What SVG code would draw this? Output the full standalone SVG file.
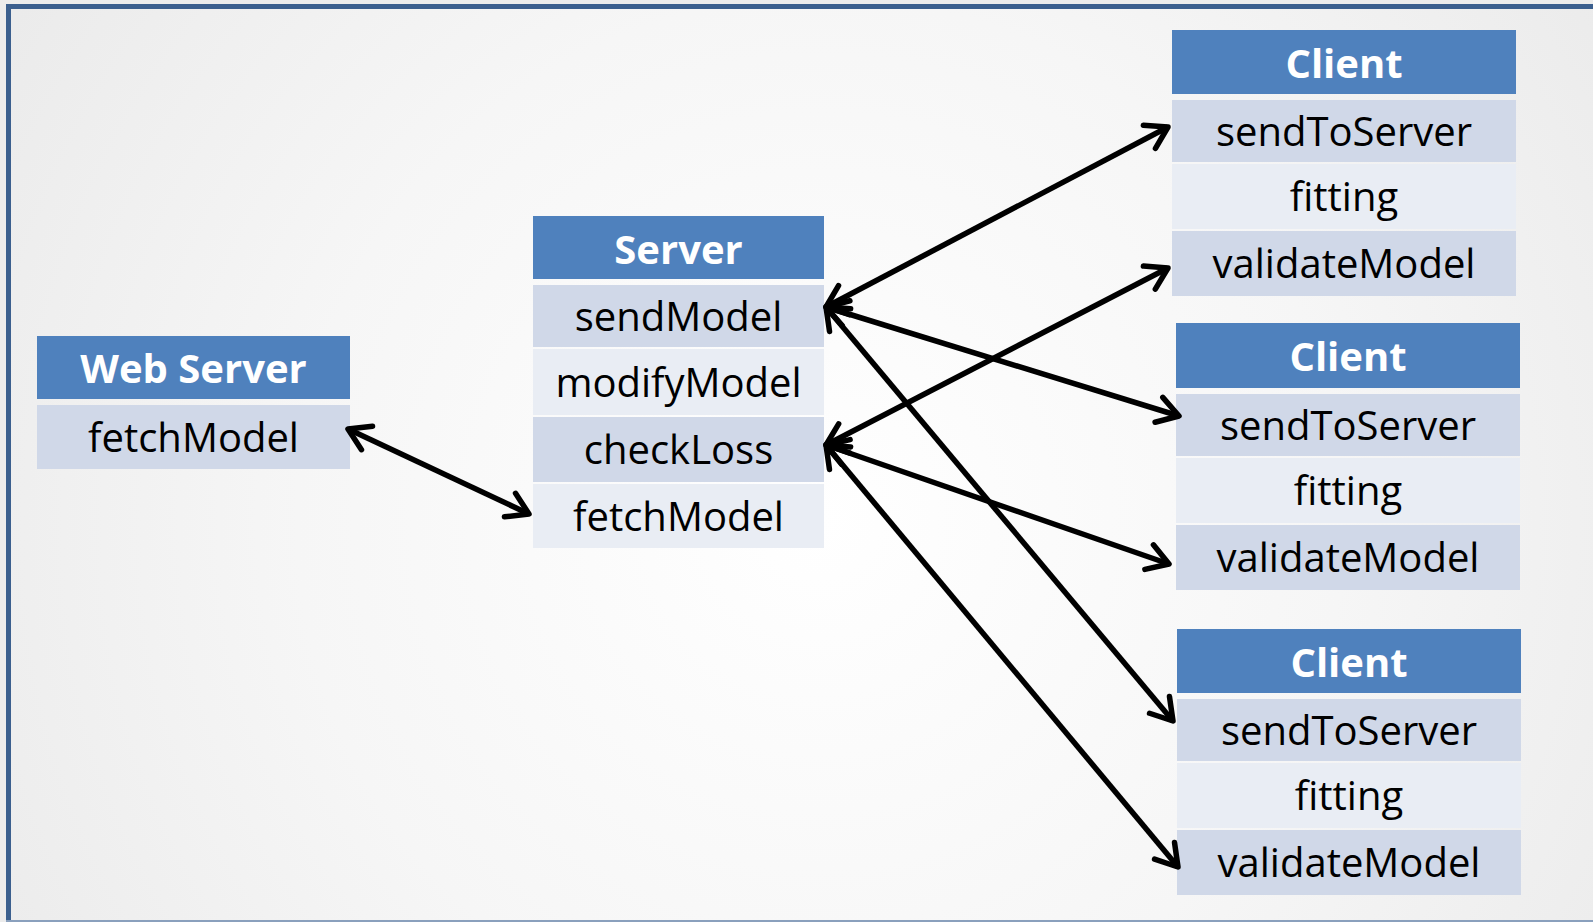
<svg xmlns="http://www.w3.org/2000/svg" width="1593" height="922" viewBox="0 0 1593 922">
  <defs>
    <radialGradient id="bg" cx="820" cy="520" r="950" gradientUnits="userSpaceOnUse">
      <stop offset="0" stop-color="#ffffff"/>
      <stop offset="0.55" stop-color="#f6f6f6"/>
      <stop offset="1" stop-color="#ebebeb"/>
    </radialGradient>
    <marker id="ah" markerUnits="userSpaceOnUse" markerWidth="40" markerHeight="40" viewBox="-30 -20 40 40" refX="0" refY="0" orient="auto-start-reverse" overflow="visible">
      <path d="M -21 -13 L 0 0 L -21 13" fill="none" stroke="#000" stroke-width="5.5" stroke-linecap="round" stroke-linejoin="round"/>
    </marker>
    <style>
      .hd { fill: #4f81bd; }
      .dk { fill: #d0d8e8; }
      .lt { fill: #e9edf4; }
      .ht { font-family: "Open Sans", "Noto Sans", "DejaVu Sans", sans-serif; font-weight: bold; font-size: 40px; fill: #ffffff; text-anchor: middle; }
      .rt { font-family: "Open Sans", "Noto Sans", "DejaVu Sans", sans-serif; font-size: 40px; fill: #000000; text-anchor: middle; }
      .cn line { stroke: #000; stroke-width: 5.5; marker-start: url(#ah); marker-end: url(#ah); }
    </style>
  </defs>

  <rect x="0" y="0" width="1593" height="922" fill="#ececec"/>
  <rect x="8" y="6" width="1585" height="915" fill="url(#bg)"/>
  <line x1="6" y1="6.5" x2="1593" y2="6.5" stroke="#3b5f8e" stroke-width="5"/>
  <line x1="8.5" y1="4" x2="8.5" y2="921" stroke="#3b5f8e" stroke-width="5"/>
  <line x1="6" y1="921" x2="1593" y2="921" stroke="#8aa0bd" stroke-width="2"/>

  <g id="web-server">
    <rect class="hd" x="37" y="336" width="313" height="63"/>
    <text class="ht" x="193.5" y="383" font-size="42">Web Server</text>
    <rect class="dk" x="37" y="405" width="313" height="64"/>
    <text class="rt" x="193.5" y="452">fetchModel</text>
  </g>

  <g id="server">
    <rect class="hd" x="533" y="216" width="291" height="63"/>
    <text class="ht" x="678.5" y="264">Server</text>
    <rect class="dk" x="533" y="285" width="291" height="62"/>
    <text class="rt" x="678.5" y="331">sendModel</text>
    <rect class="lt" x="533" y="349" width="291" height="66"/>
    <text class="rt" x="678.5" y="397">modifyModel</text>
    <rect class="dk" x="533" y="417" width="291" height="65"/>
    <text class="rt" x="678.5" y="464">checkLoss</text>
    <rect class="lt" x="533" y="484" width="291" height="64"/>
    <text class="rt" x="678.5" y="531">fetchModel</text>
  </g>

  <g id="client-1">
    <rect class="hd" x="1172" y="30" width="344" height="64"/>
    <text class="ht" x="1344" y="78">Client</text>
    <rect class="dk" x="1172" y="100" width="344" height="62"/>
    <text class="rt" x="1344" y="146">sendToServer</text>
    <rect class="lt" x="1172" y="164" width="344" height="65"/>
    <text class="rt" x="1344" y="211">fitting</text>
    <rect class="dk" x="1172" y="231" width="344" height="65"/>
    <text class="rt" x="1344" y="278">validateModel</text>
  </g>

  <g id="client-2">
    <rect class="hd" x="1176" y="323" width="344" height="65"/>
    <text class="ht" x="1348" y="371">Client</text>
    <rect class="dk" x="1176" y="394" width="344" height="62"/>
    <text class="rt" x="1348" y="440">sendToServer</text>
    <rect class="lt" x="1176" y="458" width="344" height="65"/>
    <text class="rt" x="1348" y="505">fitting</text>
    <rect class="dk" x="1176" y="525" width="344" height="65"/>
    <text class="rt" x="1348" y="572">validateModel</text>
  </g>

  <g id="client-3">
    <rect class="hd" x="1177" y="629" width="344" height="64"/>
    <text class="ht" x="1349" y="677">Client</text>
    <rect class="dk" x="1177" y="699" width="344" height="62"/>
    <text class="rt" x="1349" y="745">sendToServer</text>
    <rect class="lt" x="1177" y="763" width="344" height="65"/>
    <text class="rt" x="1349" y="810">fitting</text>
    <rect class="dk" x="1177" y="830" width="344" height="65"/>
    <text class="rt" x="1349" y="877">validateModel</text>
  </g>

  <g id="connectors" class="cn">
    <line x1="348" y1="429" x2="529" y2="514"/>
    <line x1="826" y1="307" x2="1168" y2="127"/>
    <line x1="826" y1="307" x2="1179" y2="416"/>
    <line x1="826" y1="307" x2="1173" y2="721"/>
    <line x1="826" y1="445" x2="1168" y2="268"/>
    <line x1="826" y1="445" x2="1169" y2="564"/>
    <line x1="826" y1="445" x2="1178" y2="867"/>
  </g>
</svg>
